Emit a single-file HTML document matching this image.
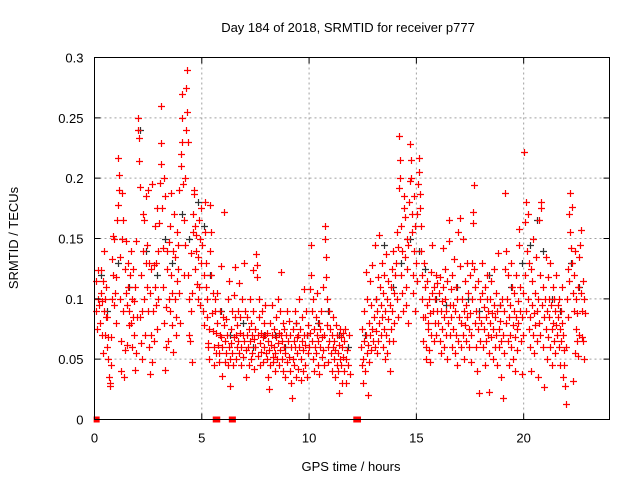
<!DOCTYPE html>
<html><head><meta charset="utf-8">
<style>
html,body{margin:0;padding:0;background:#fff;}
svg{display:block;font-family:"Liberation Sans",sans-serif;}
</style></head>
<body>
<svg id="chart" width="640" height="480" viewBox="0 0 640 480" xmlns="http://www.w3.org/2000/svg">
<rect x="0" y="0" width="640" height="480" fill="#fff"/>
<g id="grid"></g>
<g id="blackMarks"></g>
<g id="redMarks"></g>
<g id="axes"></g>
<text x="348" y="32" text-anchor="middle" font-size="13" fill="#000">Day 184 of 2018, SRMTID for receiver p777</text>
<text x="351" y="471" text-anchor="middle" font-size="13" fill="#000">GPS time / hours</text>
<text transform="translate(18,238) rotate(-90)" text-anchor="middle" font-size="13" fill="#000">SRMTID / TECUs</text>
</svg>
<script>
const xTicks = [0, 5, 10, 15, 20];
const yTicks = [0, 0.05, 0.1, 0.15, 0.2, 0.25, 0.3];
const yTickLabels = ["0", "0.05", "0.1", "0.15", "0.2", "0.25", "0.3"];
const zeroTimes = [0.1, 5.65, 5.72, 6.4, 6.45, 12.2, 12.28];
const blackSeries = [[0.3,0.12],[0.6,0.09],[1.1,0.13],[1.6,0.11],[2.1,0.24],[2.4,0.14],[2.9,0.12],[3.3,0.15],[3.6,0.13],[4.1,0.17],[4.4,0.15],[4.8,0.18],[5.1,0.16],[5.4,0.12],[5.9,0.09],[6.3,0.07],[6.9,0.08],[7.4,0.06],[7.9,0.07],[8.4,0.07],[8.9,0.06],[9.4,0.08],[9.9,0.07],[10.4,0.08],[10.9,0.09],[11.4,0.07],[11.8,0.06],[12.6,0.07],[13.1,0.1],[13.5,0.145],[13.9,0.11],[14.3,0.13],[14.7,0.15],[15.1,0.14],[15.4,0.125],[15.9,0.1],[16.4,0.095],[16.9,0.11],[17.4,0.1],[17.9,0.09],[18.4,0.12],[18.9,0.095],[19.4,0.11],[19.9,0.13],[20.3,0.145],[20.6,0.165],[20.9,0.14],[21.3,0.1],[21.7,0.09],[22.2,0.13],[22.6,0.11]];
const redSeries = [
[0.05,0.115],[0.08,0.09],[0.12,0.075],[0.15,0.1],[0.18,0.124],[0.22,0.095],[0.25,0.08],[0.28,0.105],[0.3,0.124],[0.33,0.07],[0.36,0.098],[0.38,0.115],[0.4,0.055],[0.43,0.09],[0.45,0.14],[0.48,0.1],[0.5,0.07],[0.52,0.085],[0.55,0.11],[0.58,0.06],[0.6,0.085],[0.62,0.05],[0.65,0.068],[0.68,0.035],[0.7,0.03],[0.72,0.028],[0.75,0.045],[0.78,0.068],[0.8,0.1],[0.82,0.133],[0.85,0.152],[0.88,0.12],[0.9,0.095],[0.93,0.15],[0.95,0.105],[0.98,0.08],
[1.02,0.118],[1.05,0.165],[1.08,0.178],[1.1,0.217],[1.13,0.203],[1.15,0.19],[1.18,0.135],[1.2,0.1],[1.22,0.065],[1.25,0.04],[1.28,0.15],[1.3,0.188],[1.33,0.165],[1.35,0.09],[1.38,0.035],[1.4,0.058],[1.43,0.125],[1.45,0.105],[1.48,0.148],[1.5,0.095],[1.53,0.062],[1.55,0.13],[1.58,0.11],[1.6,0.09],[1.63,0.078],[1.65,0.12],[1.68,0.08],[1.7,0.14],[1.73,0.1],[1.75,0.06],[1.78,0.085],[1.8,0.125],[1.83,0.098],[1.85,0.07],[1.88,0.11],[1.9,0.041],[1.93,0.055],[1.95,0.148],[1.98,0.085],
[2.02,0.25],[2.04,0.24],[2.06,0.233],[2.08,0.214],[2.1,0.193],[2.12,0.085],[2.15,0.063],[2.18,0.12],[2.2,0.09],[2.23,0.05],[2.25,0.17],[2.28,0.14],[2.3,0.165],[2.33,0.1],[2.35,0.07],[2.38,0.13],[2.4,0.185],[2.43,0.145],[2.45,0.11],[2.48,0.09],[2.5,0.19],[2.53,0.13],[2.55,0.06],[2.58,0.105],[2.6,0.038],[2.63,0.07],[2.65,0.125],[2.68,0.195],[2.7,0.048],[2.73,0.09],[2.75,0.128],[2.78,0.065],[2.8,0.11],[2.83,0.16],[2.85,0.095],[2.88,0.13],[2.9,0.075],[2.93,0.175],[2.95,0.14],[2.98,0.1],
[3.02,0.163],[3.05,0.196],[3.08,0.229],[3.1,0.26],[3.12,0.212],[3.15,0.175],[3.18,0.142],[3.2,0.11],[3.22,0.08],[3.25,0.2],[3.28,0.185],[3.3,0.041],[3.33,0.06],[3.35,0.093],[3.38,0.14],[3.4,0.125],[3.43,0.065],[3.45,0.1],[3.48,0.147],[3.5,0.09],[3.53,0.16],[3.55,0.188],[3.58,0.12],[3.6,0.078],[3.63,0.105],[3.65,0.14],[3.68,0.056],[3.7,0.17],[3.73,0.135],[3.75,0.1],[3.78,0.085],[3.8,0.07],[3.83,0.155],[3.85,0.115],[3.88,0.125],[3.9,0.145],[3.93,0.105],[3.95,0.19],[3.98,0.08],
[4.02,0.21],[4.04,0.22],[4.06,0.27],[4.08,0.25],[4.1,0.23],[4.12,0.195],[4.15,0.165],[4.18,0.12],[4.2,0.2],[4.22,0.145],[4.25,0.24],[4.28,0.275],[4.3,0.29],[4.32,0.255],[4.35,0.23],[4.37,0.12],[4.4,0.07],[4.42,0.1],[4.45,0.065],[4.48,0.09],[4.5,0.138],[4.53,0.048],[4.55,0.105],[4.58,0.17],[4.6,0.155],[4.63,0.187],[4.65,0.19],[4.68,0.16],[4.7,0.125],[4.73,0.14],[4.75,0.153],[4.78,0.112],[4.8,0.1],[4.83,0.135],[4.85,0.165],[4.88,0.11],[4.9,0.095],[4.93,0.15],[4.95,0.13],[4.98,0.175],
[5.02,0.145],[5.05,0.09],[5.08,0.12],[5.1,0.078],[5.13,0.18],[5.15,0.155],[5.18,0.13],[5.2,0.11],[5.23,0.1],[5.25,0.085],[5.28,0.06],[5.3,0.063],[5.33,0.05],[5.35,0.075],[5.38,0.14],[5.4,0.178],[5.43,0.155],[5.45,0.12],[5.48,0.088],[5.5,0.073],[5.53,0.105],[5.55,0.06],[5.58,0.045],[5.6,0.1],[5.63,0.09],[5.65,0.055],[5.68,0.072],[5.7,0.105],[5.73,0.08],[5.75,0.062],[5.78,0.048],[5.8,0.055],[5.83,0.07],[5.85,0.09],[5.88,0.127],[5.9,0.068],[5.93,0.036],[5.95,0.06],[5.98,0.085],
[6.02,0.078],[6.05,0.172],[6.08,0.065],[6.1,0.048],[6.13,0.055],[6.15,0.083],[6.18,0.07],[6.2,0.1],[6.23,0.045],[6.25,0.06],[6.28,0.115],[6.3,0.05],[6.33,0.028],[6.35,0.075],[6.38,0.063],[6.4,0.09],[6.43,0.055],[6.45,0.045],[6.48,0.068],[6.5,0.103],[6.53,0.085],[6.55,0.126],[6.58,0.07],[6.6,0.05],[6.63,0.06],[6.65,0.078],[6.68,0.09],[6.7,0.065],[6.73,0.113],[6.75,0.055],[6.78,0.072],[6.8,0.085],[6.83,0.045],[6.85,0.06],[6.88,0.1],[6.9,0.07],[6.93,0.052],[6.95,0.13],[6.98,0.065],
[7.02,0.09],[7.05,0.058],[7.08,0.035],[7.1,0.07],[7.13,0.085],[7.15,0.06],[7.18,0.045],[7.2,0.075],[7.23,0.1],[7.25,0.065],[7.28,0.05],[7.3,0.08],[7.33,0.07],[7.35,0.055],[7.38,0.124],[7.4,0.09],[7.43,0.067],[7.45,0.042],[7.48,0.06],[7.5,0.075],[7.53,0.137],[7.55,0.128],[7.58,0.118],[7.6,0.07],[7.63,0.053],[7.65,0.085],[7.68,0.1],[7.7,0.063],[7.73,0.045],[7.75,0.072],[7.78,0.056],[7.8,0.09],[7.83,0.068],[7.85,0.048],[7.88,0.06],[7.9,0.08],[7.93,0.095],[7.95,0.07],[7.98,0.055],
[8.02,0.072],[8.05,0.05],[8.08,0.065],[8.1,0.035],[8.13,0.025],[8.15,0.058],[8.18,0.08],[8.2,0.045],[8.23,0.062],[8.25,0.095],[8.28,0.07],[8.3,0.052],[8.33,0.048],[8.35,0.06],[8.38,0.075],[8.4,0.04],[8.43,0.055],[8.45,0.085],[8.48,0.068],[8.5,0.05],[8.53,0.1],[8.55,0.063],[8.58,0.045],[8.6,0.072],[8.63,0.058],[8.65,0.09],[8.68,0.07],[8.7,0.122],[8.73,0.05],[8.75,0.065],[8.78,0.08],[8.8,0.04],[8.83,0.06],[8.85,0.075],[8.88,0.035],[8.9,0.055],[8.93,0.07],[8.95,0.09],[8.98,0.048],
[9.02,0.065],[9.05,0.082],[9.08,0.052],[9.1,0.07],[9.13,0.04],[9.15,0.06],[9.18,0.03],[9.2,0.018],[9.23,0.05],[9.25,0.075],[9.28,0.065],[9.3,0.045],[9.33,0.09],[9.35,0.06],[9.38,0.035],[9.4,0.08],[9.43,0.055],[9.45,0.068],[9.48,0.07],[9.5,0.042],[9.53,0.06],[9.55,0.1],[9.58,0.075],[9.6,0.05],[9.63,0.033],[9.65,0.065],[9.68,0.085],[9.7,0.058],[9.73,0.04],[9.75,0.07],[9.78,0.108],[9.8,0.062],[9.83,0.045],[9.85,0.09],[9.88,0.07],[9.9,0.035],[9.93,0.055],[9.95,0.078],[9.98,0.06],
[10.02,0.072],[10.05,0.108],[10.08,0.145],[10.1,0.12],[10.13,0.09],[10.15,0.065],[10.18,0.05],[10.2,0.1],[10.23,0.075],[10.25,0.04],[10.28,0.06],[10.3,0.085],[10.33,0.055],[10.35,0.07],[10.38,0.105],[10.4,0.045],[10.43,0.065],[10.45,0.08],[10.48,0.038],[10.5,0.06],[10.53,0.075],[10.55,0.09],[10.58,0.052],[10.6,0.068],[10.63,0.11],[10.65,0.058],[10.68,0.045],[10.7,0.07],[10.73,0.16],[10.75,0.15],[10.78,0.135],[10.8,0.118],[10.83,0.1],[10.85,0.078],[10.88,0.06],[10.9,0.048],[10.93,0.065],[10.95,0.09],[10.98,0.075],
[11.02,0.055],[11.05,0.04],[11.08,0.07],[11.1,0.06],[11.13,0.085],[11.15,0.05],[11.18,0.065],[11.2,0.035],[11.23,0.058],[11.25,0.078],[11.28,0.045],[11.3,0.07],[11.33,0.055],[11.35,0.04],[11.38,0.022],[11.4,0.062],[11.43,0.075],[11.45,0.05],[11.48,0.068],[11.5,0.045],[11.53,0.03],[11.55,0.06],[11.58,0.072],[11.6,0.052],[11.63,0.04],[11.65,0.065],[11.68,0.075],[11.7,0.03],[11.73,0.05],[11.75,0.058],[11.8,0.045],[11.85,0.07],[11.9,0.038],
[12.42,0.06],[12.45,0.045],[12.48,0.075],[12.5,0.03],[12.53,0.05],[12.55,0.09],[12.58,0.065],[12.6,0.04],[12.63,0.122],[12.65,0.07],[12.68,0.055],[12.7,0.1],[12.73,0.02],[12.75,0.062],[12.78,0.08],[12.8,0.048],[12.83,0.115],[12.85,0.07],[12.88,0.058],[12.9,0.095],[12.93,0.075],[12.95,0.128],[12.98,0.065],
[13.02,0.085],[13.05,0.145],[13.08,0.06],[13.1,0.1],[13.13,0.073],[13.15,0.055],[13.18,0.09],[13.2,0.118],[13.23,0.065],[13.25,0.08],[13.28,0.153],[13.3,0.11],[13.33,0.07],[13.35,0.095],[13.38,0.13],[13.4,0.085],[13.43,0.06],[13.45,0.105],[13.48,0.075],[13.5,0.12],[13.53,0.05],[13.55,0.09],[13.58,0.137],[13.6,0.07],[13.63,0.1],[13.65,0.055],[13.68,0.083],[13.7,0.115],[13.73,0.065],[13.75,0.095],[13.78,0.04],[13.8,0.075],[13.83,0.11],[13.85,0.125],[13.88,0.09],[13.9,0.14],[13.93,0.065],[13.95,0.105],[13.98,0.08],
[14.02,0.12],[14.05,0.13],[14.08,0.1],[14.1,0.155],[14.13,0.085],[14.15,0.143],[14.18,0.235],[14.2,0.192],[14.23,0.215],[14.25,0.2],[14.28,0.16],[14.3,0.12],[14.33,0.105],[14.35,0.14],[14.38,0.09],[14.4,0.175],[14.43,0.185],[14.45,0.135],[14.48,0.168],[14.5,0.11],[14.53,0.095],[14.55,0.125],[14.58,0.15],[14.6,0.08],[14.63,0.145],[14.65,0.18],[14.68,0.198],[14.7,0.228],[14.73,0.215],[14.75,0.2],[14.78,0.17],[14.8,0.155],[14.83,0.12],[14.85,0.105],[14.88,0.185],[14.9,0.14],[14.93,0.09],[14.95,0.16],[14.98,0.13],
[15.02,0.17],[15.05,0.115],[15.08,0.195],[15.1,0.217],[15.13,0.205],[15.15,0.187],[15.18,0.175],[15.2,0.16],[15.23,0.14],[15.25,0.12],[15.28,0.1],[15.3,0.085],[15.33,0.065],[15.35,0.13],[15.38,0.11],[15.4,0.085],[15.43,0.05],[15.45,0.06],[15.48,0.095],[15.5,0.115],[15.53,0.08],[15.55,0.075],[15.58,0.1],[15.6,0.058],[15.63,0.048],[15.65,0.088],[15.68,0.122],[15.7,0.07],[15.73,0.105],[15.75,0.145],[15.78,0.09],[15.8,0.065],[15.83,0.11],[15.85,0.08],[15.88,0.1],[15.9,0.12],[15.93,0.07],[15.95,0.09],[15.98,0.113],
[16.02,0.08],[16.05,0.105],[16.08,0.065],[16.1,0.118],[16.13,0.09],[16.15,0.055],[16.18,0.098],[16.2,0.075],[16.23,0.142],[16.25,0.11],[16.28,0.085],[16.3,0.06],[16.33,0.1],[16.35,0.125],[16.38,0.07],[16.4,0.09],[16.43,0.05],[16.45,0.115],[16.48,0.08],[16.5,0.165],[16.53,0.148],[16.55,0.095],[16.58,0.07],[16.6,0.108],[16.63,0.085],[16.65,0.06],[16.68,0.12],[16.7,0.095],[16.73,0.075],[16.75,0.133],[16.78,0.055],[16.8,0.09],[16.83,0.11],[16.85,0.07],[16.88,0.045],[16.9,0.1],[16.93,0.155],[16.95,0.065],[16.98,0.085],
[17.02,0.167],[17.05,0.127],[17.08,0.06],[17.1,0.08],[17.13,0.1],[17.15,0.15],[17.18,0.07],[17.2,0.09],[17.23,0.05],[17.25,0.115],[17.28,0.078],[17.3,0.095],[17.33,0.065],[17.35,0.13],[17.38,0.085],[17.4,0.105],[17.43,0.06],[17.45,0.075],[17.48,0.12],[17.5,0.088],[17.53,0.048],[17.55,0.07],[17.58,0.1],[17.6,0.13],[17.63,0.163],[17.65,0.172],[17.68,0.194],[17.7,0.125],[17.73,0.08],[17.75,0.11],[17.78,0.06],[17.8,0.09],[17.83,0.04],[17.85,0.075],[17.88,0.115],[17.9,0.085],[17.93,0.022],[17.95,0.065],[17.98,0.1],
[18.02,0.08],[18.05,0.13],[18.08,0.105],[18.1,0.06],[18.13,0.093],[18.15,0.075],[18.18,0.045],[18.2,0.11],[18.23,0.085],[18.25,0.065],[18.28,0.1],[18.3,0.12],[18.33,0.07],[18.35,0.09],[18.38,0.023],[18.4,0.055],[18.43,0.08],[18.45,0.1],[18.48,0.068],[18.5,0.115],[18.53,0.088],[18.55,0.05],[18.58,0.075],[18.6,0.125],[18.63,0.095],[18.65,0.06],[18.68,0.085],[18.7,0.07],[18.73,0.105],[18.75,0.045],[18.78,0.09],[18.8,0.138],[18.83,0.075],[18.85,0.06],[18.88,0.095],[18.9,0.082],[18.93,0.035],[18.95,0.065],[18.98,0.1],
[19.02,0.018],[19.05,0.07],[19.08,0.09],[19.1,0.055],[19.13,0.125],[19.15,0.188],[19.18,0.14],[19.2,0.08],[19.23,0.1],[19.25,0.065],[19.28,0.12],[19.3,0.045],[19.33,0.085],[19.35,0.07],[19.38,0.095],[19.4,0.13],[19.43,0.06],[19.45,0.11],[19.48,0.078],[19.5,0.05],[19.53,0.09],[19.55,0.105],[19.58,0.068],[19.6,0.04],[19.63,0.085],[19.65,0.12],[19.68,0.075],[19.7,0.058],[19.73,0.098],[19.75,0.08],[19.78,0.158],[19.8,0.145],[19.83,0.11],[19.85,0.09],[19.88,0.065],[19.9,0.038],[19.93,0.085],[19.95,0.105],[19.98,0.07],
[20.02,0.222],[20.05,0.164],[20.08,0.12],[20.1,0.09],[20.13,0.18],[20.15,0.14],[20.18,0.17],[20.2,0.1],[20.23,0.075],[20.25,0.13],[20.28,0.085],[20.3,0.06],[20.33,0.125],[20.35,0.04],[20.38,0.095],[20.4,0.115],[20.43,0.07],[20.45,0.15],[20.48,0.088],[20.5,0.055],[20.53,0.105],[20.55,0.078],[20.58,0.135],[20.6,0.09],[20.63,0.065],[20.65,0.1],[20.68,0.035],[20.7,0.08],[20.73,0.165],[20.75,0.12],[20.78,0.07],[20.8,0.18],[20.83,0.175],[20.85,0.095],[20.88,0.06],[20.9,0.11],[20.93,0.027],[20.95,0.085],[20.98,0.1],
[21.02,0.075],[21.05,0.135],[21.08,0.09],[21.1,0.05],[21.13,0.118],[21.15,0.068],[21.18,0.1],[21.2,0.085],[21.23,0.13],[21.25,0.06],[21.28,0.095],[21.3,0.075],[21.33,0.045],[21.35,0.11],[21.38,0.08],[21.4,0.065],[21.43,0.1],[21.45,0.09],[21.48,0.055],[21.5,0.078],[21.53,0.12],[21.55,0.07],[21.58,0.095],[21.6,0.085],[21.63,0.06],[21.65,0.1],[21.68,0.075],[21.7,0.045],[21.73,0.09],[21.75,0.065],[21.78,0.08],[21.8,0.11],[21.83,0.035],[21.85,0.07],[21.88,0.058],[21.9,0.045],[21.93,0.028],[21.95,0.013],[21.98,0.06],
[22.02,0.1],[22.05,0.125],[22.08,0.085],[22.1,0.115],[22.13,0.17],[22.15,0.188],[22.18,0.155],[22.2,0.142],[22.23,0.176],[22.25,0.13],[22.28,0.032],[22.3,0.105],[22.33,0.09],[22.35,0.12],[22.38,0.055],[22.4,0.14],[22.43,0.075],[22.45,0.1],[22.48,0.065],[22.5,0.088],[22.53,0.053],[22.55,0.11],[22.58,0.07],[22.6,0.135],[22.63,0.145],[22.65,0.157],[22.68,0.105],[22.7,0.068],[22.73,0.09],[22.75,0.115],[22.78,0.065],[22.8,0.05],[22.83,0.1],[22.85,0.088]
];

const NS = "http://www.w3.org/2000/svg";
const L = 94.5, R = 609.5, T = 57.5, B = 419.5;
const X_MAX = 24, Y_MAX = 0.3;
function xScale(v){ return L + (v / X_MAX) * (R - L); }
function yScale(v){ return B - (v / Y_MAX) * (B - T); }
function mk(tag, attrs, parent){
  const el = document.createElementNS(NS, tag);
  for (const k in attrs) el.setAttribute(k, attrs[k]);
  parent.appendChild(el);
  return el;
}
const grid = document.getElementById('grid');
const axes = document.getElementById('axes');
xTicks.forEach(function(t){
  const x = xScale(t);
  if (t > 0) {
    const g = mk('line', {x1:x, y1:T, x2:x, y2:B, stroke:'#a0a0a0', 'stroke-width':1, 'stroke-dasharray':'2,3'}, grid);
    
    
  }
  const tk = mk('path', {d:'M'+x+','+B+'v-6M'+x+','+T+'v6', stroke:'#000', 'stroke-width':1}, axes);
  
  
  const lb = mk('text', {x:x, y:B+23, 'text-anchor':'middle', 'font-size':13, fill:'#000'}, axes);
  lb.textContent = String(t);
  
  
});
yTicks.forEach(function(v, i){
  const y = yScale(v);
  if (v > 0 && v < Y_MAX) {
    const g = mk('line', {x1:L, y1:y, x2:R, y2:y, stroke:'#a0a0a0', 'stroke-width':1, 'stroke-dasharray':'2,3'}, grid);
    
    
  }
  const tk = mk('path', {d:'M'+L+','+y+'h6M'+R+','+y+'h-6', stroke:'#000', 'stroke-width':1}, axes);
  
  
  const lb = mk('text', {x:L-11, y:y+5, 'text-anchor':'end', 'font-size':13, fill:'#000'}, axes);
  lb.textContent = yTickLabels[i];
  
  
});
const frame = mk('rect', {x:L, y:T, width:R-L, height:B-T, fill:'none', stroke:'#000', 'stroke-width':1}, axes);



function drawPlus(parent, series, color, name){
  let d = '';
  series.forEach(function(p){
    const x = Math.round(xScale(p[0])) + 0.5, y = Math.round(yScale(p[1])) + 0.5;
    d += 'M' + (x-3.5) + ',' + y + 'h7M' + x + ',' + (y-3.5) + 'v7';
  });
  const path = mk('path', {d:d, stroke:color, 'stroke-width':1.2, fill:'none'}, parent);
  
  
}
drawPlus(document.getElementById('blackMarks'), blackSeries, '#333', 'black-points');
drawPlus(document.getElementById('redMarks'), redSeries, '#ff0000', 'red-points');
zeroTimes.forEach(function(t){
  const r = mk('rect', {x:xScale(t)-3, y:B-3, width:6, height:6, fill:'#ff0000'}, document.getElementById('redMarks'));
  
  
});
</script>
</body></html>
